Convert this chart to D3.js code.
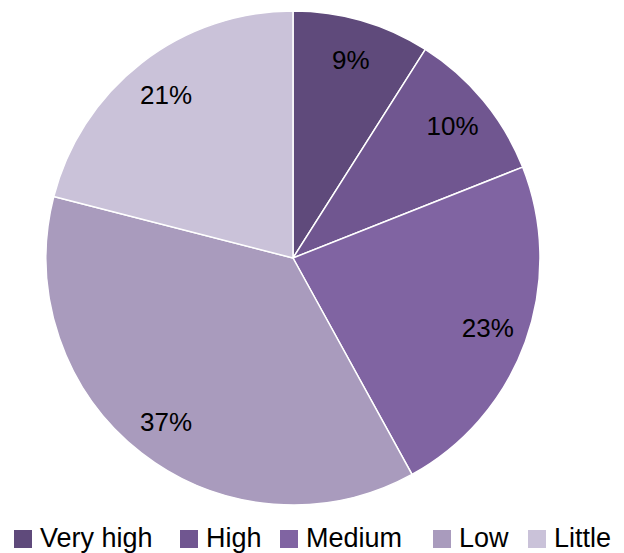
<!DOCTYPE html>
<html>
<head>
<meta charset="utf-8">
<script src="https://d3js.org/d3.v7.min.js"></script>
<style>
  body { margin: 0; background: #fff; }
  text { font-family: "Liberation Sans", Arial, sans-serif; }
</style>
</head>
<body>
<div id="chart"></div>
<script>
// data
const categories = ["Very high", "High", "Medium", "Low", "Little"];
const shares = [9, 10, 23, 37, 21];
const colors = ["#5f4a7b", "#705690", "#8064a2", "#a99bbd", "#cac2d9"];

const w = 624, h = 553;
const cx = 293, cy = 258, r = 247;

const svg = d3.select("#chart").append("svg")
  .attr("width", w).attr("height", h);

const pie = d3.pie().sort(null).value(d => d.v);
const arcs = pie(categories.map((c, i) => ({ c: c, v: shares[i], i: i })));

const arc = d3.arc().innerRadius(0).outerRadius(r);
const labelArc = d3.arc().innerRadius(207).outerRadius(207);

const g = svg.append("g").attr("transform", "translate(" + cx + "," + cy + ")");

g.selectAll("path")
  .data(arcs)
  .enter().append("path")
  .attr("d", arc)
  .attr("fill", d => colors[d.data.i])
  .attr("stroke", "#fff")
  .attr("stroke-width", 1.5)
  .attr("stroke-linejoin", "round");

g.selectAll("text.lbl")
  .data(arcs)
  .enter().append("text")
  .attr("class", "lbl")
  .attr("transform", d => "translate(" + labelArc.centroid(d) + ")")
  .attr("text-anchor", "middle")
  .attr("dy", "0.36em")
  .attr("font-size", "26px")
  .attr("fill", "#000")
  .text(d => d.data.v + "%");

// legend
const legX = [14, 180, 280, 433, 528];
const leg = svg.append("g");
const items = leg.selectAll("g")
  .data(categories)
  .enter().append("g")
  .attr("transform", (d, i) => "translate(" + legX[i] + ",530)");

items.append("rect")
  .attr("width", 18).attr("height", 18)
  .attr("fill", (d, i) => colors[i]);

items.append("text")
  .attr("x", 26)
  .attr("y", 17)
  .attr("font-size", "27px")
  .attr("fill", "#000")
  .text(d => d);
</script>
</body>
</html>
